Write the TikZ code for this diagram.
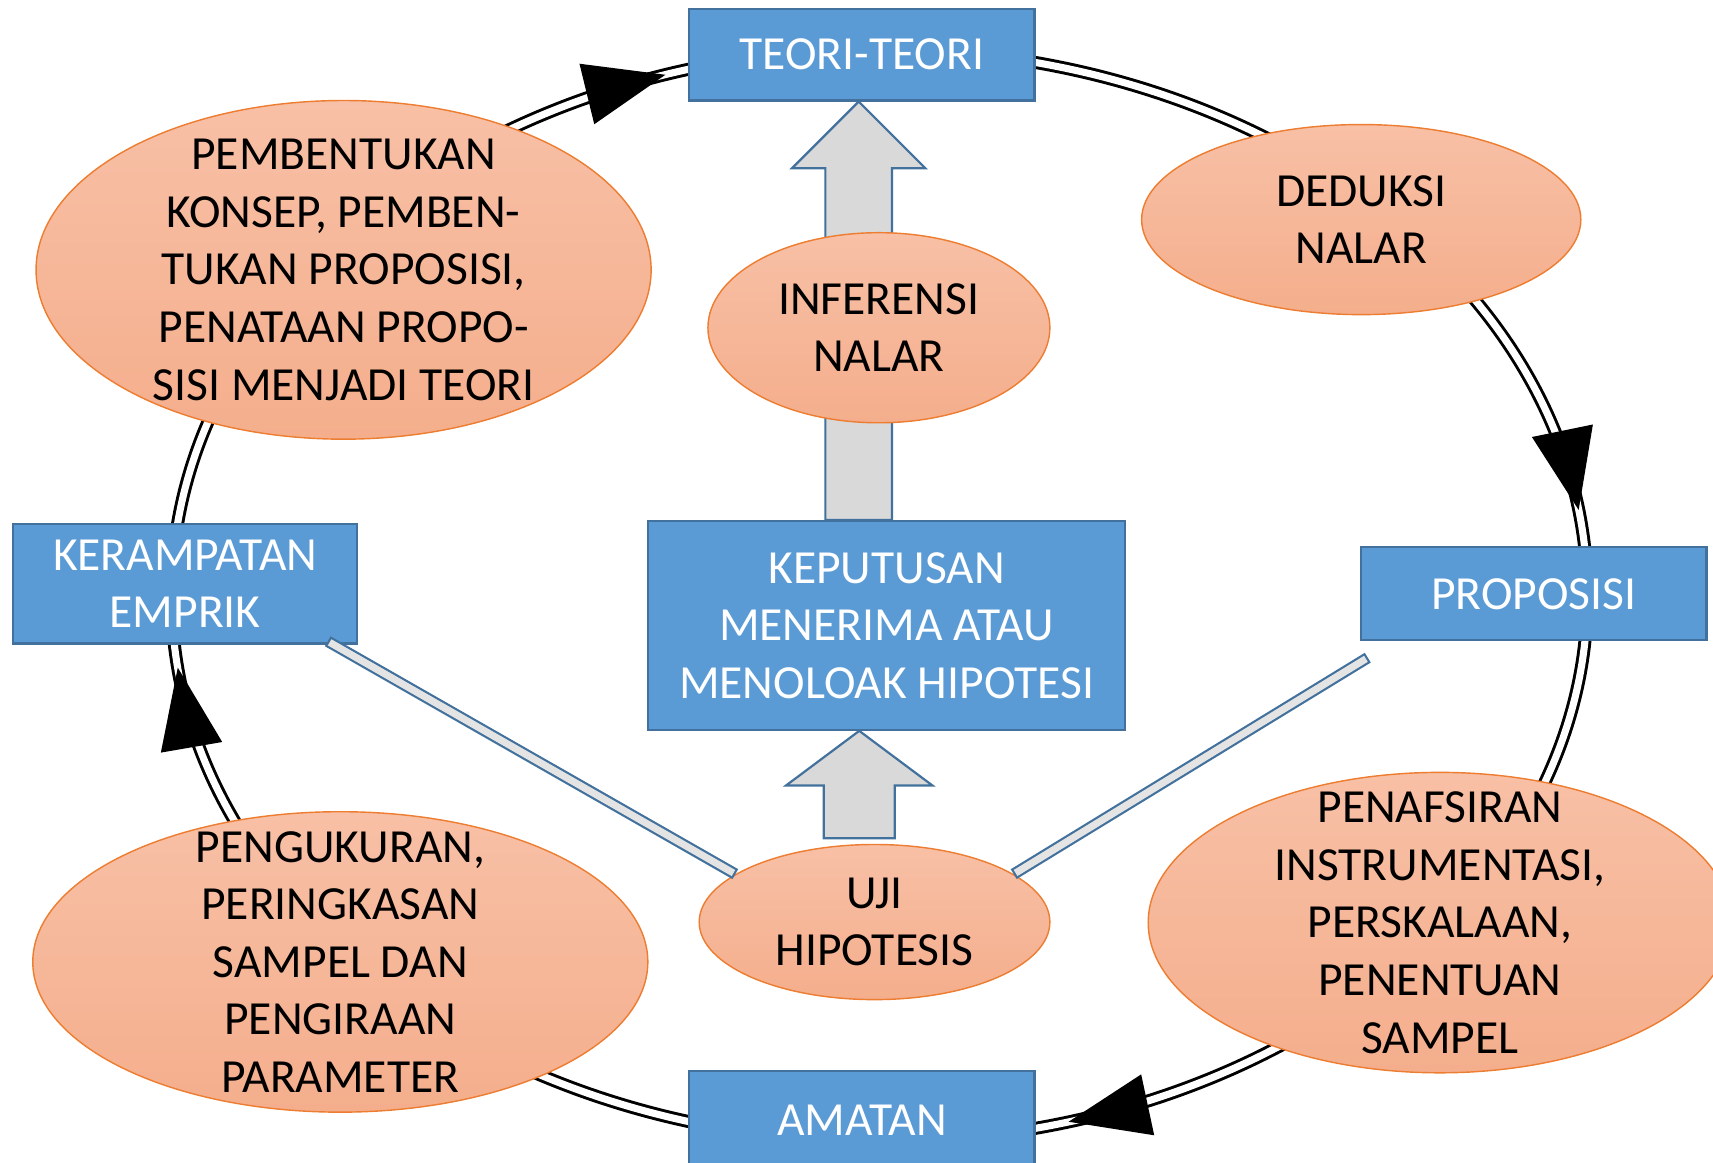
\documentclass[tikz,border=0pt]{standalone}
\usepackage{fontspec}
\setmainfont{Carlito}
\usetikzlibrary{calc,shapes.geometric}

\pgfdeclarelayer{ring}
\pgfdeclarelayer{under}
\pgfsetlayers{ring,under,main}

\definecolor{boxblue}{HTML}{5B9BD5}
\definecolor{boxedge}{HTML}{41719C}
\definecolor{ovaltop}{HTML}{F8C0A6}
\definecolor{ovalbot}{HTML}{F4AE8C}
\definecolor{ovaledge}{HTML}{ED7D31}
\definecolor{arrowgray}{HTML}{D9D9D9}
\definecolor{barfill}{HTML}{E4E4E4}

\tikzset{
  every node/.style={font=\fontsize{43.5}{52.75}\selectfont},
  stage/.style={rectangle, draw=boxedge, line width=2pt, fill=boxblue,
    text=white, align=center, inner sep=0pt},
  oval/.style={ellipse, draw=ovaledge, line width=1.3pt,
    top color=ovaltop, bottom color=ovalbot, inner sep=0pt},
  ovaltext/.style={align=center, text=black, inner sep=0pt},
  ring/.style={draw=black, line width=2.7pt, double=white, double distance=6.5pt},
  ringhead/.style={fill=black},
  blockarrow/.style={draw=boxedge, line width=2pt, fill=arrowgray, line join=miter},
  barouter/.style={draw=boxedge, line width=10.5pt},
  barinner/.style={draw=barfill, line width=6.5pt, shorten <=2pt, shorten >=2pt},
}

% flat bar joining two points, outlined on all four sides
\newcommand{\linkbar}[2]{%
  \draw[barouter] #1 -- #2;
  \draw[barinner] #1 -- #2;}

\begin{document}
\begin{tikzpicture}[x=1pt,y=-1pt]
\useasboundingbox (0,0) rectangle (1568,1064);
\coordinate (ringc) at (805,545);

% rectangular stages
\node[stage, minimum width=316pt, minimum height=84pt] (teori) at (789,50) {TEORI-TEORI};
\node[stage, minimum width=316pt, minimum height=85pt] (proposisi) at (1404,543.5) {PROPOSISI};
\node[stage, minimum width=316pt, minimum height=90pt] (amatan) at (789,1025) {AMATAN};
\node[stage, minimum width=315pt, minimum height=109pt] (kerampatan) at (169.5,534.5) {KERAMPATAN\\EMPRIK};
\node[stage, minimum width=437pt, minimum height=191pt] (keputusan) at (811.5,572.5)
  {KEPUTUSAN\\MENERIMA ATAU\\MENOLOAK HIPOTESI};

% oval processes
\node[oval, minimum width=563pt, minimum height=310pt] (pembentukan) at (314.5,247) {};
\node[ovaltext] at (pembentukan) {PEMBENTUKAN\\KONSEP, PEMBEN-\\TUKAN PROPOSISI,\\PENATAAN PROPO-\\SISI MENJADI TEORI};

\node[oval, minimum width=402pt, minimum height=174pt] (deduksi) at (1246,201) {};
\node[ovaltext] at (deduksi) {DEDUKSI\\NALAR};

\node[oval, minimum width=313pt, minimum height=174pt] (inferensi) at (804.5,300) {};
\node[ovaltext] at (inferensi) {INFERENSI\\NALAR};

\node[oval, minimum width=563pt, minimum height=275pt] (pengukuran) at (311.5,880.5) {};
\node[ovaltext] at (pengukuran) {PENGUKURAN,\\PERINGKASAN\\SAMPEL DAN\\PENGIRAAN\\PARAMETER};

\node[oval, minimum width=321pt, minimum height=142pt] (uji) at (800.5,844) {};
\node[ovaltext] at (uji) {UJI\\HIPOTESIS};

\node[oval, minimum width=534pt, minimum height=275pt] (penafsiran) at (1318,844.5) {};
\node[ovaltext] at (penafsiran) {PENAFSIRAN\\INSTRUMENTASI,\\PERSKALAAN,\\PENENTUAN\\SAMPEL};

% the research cycle, running clockwise
\begin{pgfonlayer}{ring}
  \draw[ring] (ringc) ellipse [x radius=648, y radius=500];
  \foreach \t in {252.4,351,74.5,172.4}{
    \pgfmathsetmacro{\dx}{-0.648*sin(\t)}
    \pgfmathsetmacro{\dy}{0.5*cos(\t)}
    \pgfmathsetmacro{\len}{veclen(\dx,\dy)}
    \pgfmathsetmacro{\ux}{\dx/\len}
    \pgfmathsetmacro{\uy}{\dy/\len}
    \coordinate (tip) at ($(ringc)+({648*cos(\t)},{500*sin(\t)})$);
    \fill[ringhead] (tip)
      -- ($(tip)+({-74*\ux-28.5*\uy},{-74*\uy+28.5*\ux})$)
      -- ($(tip)+({-74*\ux+28.5*\uy},{-74*\uy-28.5*\ux})$) -- cycle;
  }
\end{pgfonlayer}

% broad upward arrows through the middle
\begin{pgfonlayer}{under}
  \coordinate (upA) at ($(teori.south)+(-3,0)$);
  \draw[blockarrow] (upA) -- ++(61,61) -- ++(-30.5,0)
    -- ($(upA |- keputusan.north)+(30.5,0)$) -- ++(-61,0)
    -- ($(upA)+(-30.5,61)$) -- ++(-30.5,0) -- cycle;
  \coordinate (upB) at ($(teori.south |- keputusan.south)+(-2.5,0)$);
  \draw[blockarrow] (upB) -- ++(67,50) -- ++(-34.5,0)
    -- ($(upB |- uji.north)+(32.5,-5)$) -- ++(-65,0)
    -- ($(upB)+(-32.5,50)$) -- ++(-34.5,0) -- cycle;
\end{pgfonlayer}

% links from the hypothesis test
\linkbar{($(kerampatan.south east)+(-28,-3)$)}{(uji.161)}
\linkbar{(uji.19)}{($(proposisi.south west)+(7,15)$)}
\end{tikzpicture}
\end{document}
